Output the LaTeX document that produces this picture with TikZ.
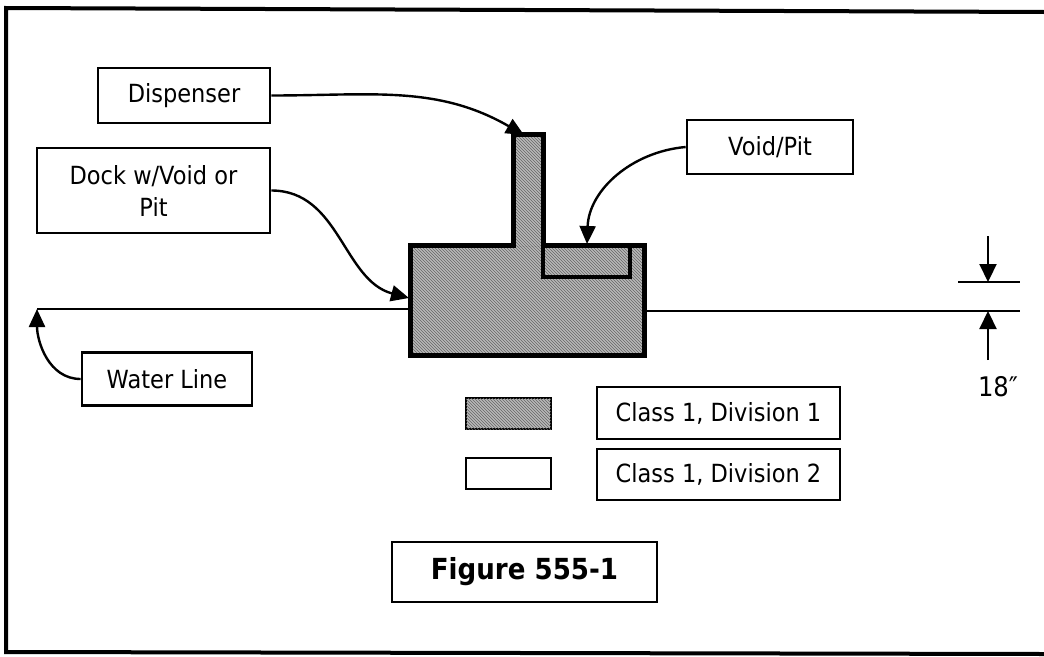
\documentclass[tikz,border=0pt]{standalone}
\usepackage{fontspec}
\setmainfont{DejaVu Sans}[FakeStretch=0.9]
\usetikzlibrary{arrows.meta,patterns}
\tikzset{
  lbl/.style={draw, line width=2.7pt, inner sep=0pt, font=\fontsize{25}{32}\selectfont, align=center},
  conn/.style={draw, line width=2.4pt, -{Triangle[length=18pt,width=16pt]}},
  dimarrow/.style={draw, line width=2.2pt, -{Triangle[length=18pt,width=17pt]}},
  hatchfill/.style={fill=black!28, postaction={pattern=north west lines, pattern color=black!60}},
}
\begin{document}
\begin{tikzpicture}[x=1pt,y=-1pt]
\useasboundingbox (0,0) rectangle (1044,656);
% frame
\draw[line width=4pt] (1044,12) -- (6,8) -- (6,652) -- (1044,654);

% label boxes
\node[lbl, minimum width=172, minimum height=55] (disp) at (184,95.5) {Dispenser};
\node[lbl, minimum width=233, minimum height=85] (dock) at (153.5,190.5) {Dock w/Void or\\Pit};
\node[lbl, minimum width=166, minimum height=54] (void) at (770,147) {Void/Pit};
\node[lbl, minimum width=170, minimum height=53] (water) at (167,379) {Water Line};

% tank
\fill[hatchfill] (410,245) rectangle (644,355);
\fill[hatchfill] (513,134) rectangle (543,246);
\draw[line width=5pt, line join=miter] (410,245) -- (513,245) -- (513,134) -- (543,134) -- (543,245) -- (644,245) -- (644,355) -- (410,355) -- cycle;
\draw[line width=3.4pt] (543,245) -- (543,277) -- (630,277) -- (630,245);
\coordinate (stemtop) at (524,135);
\coordinate (tankW) at (409,298);
\coordinate (voidtop) at (587,244);
\coordinate (tankE) at (644,311);

% water line
\coordinate (wlL) at (37,309);
\coordinate (wlR) at (1020,311);
\draw[line width=2.2pt] (wlL) -- (tankW |- wlL);
\draw[line width=2.2pt] (tankE) -- (wlR);

% dimension
\coordinate (dimtop) at (958,282);
\coordinate (dimtopR) at (1020,282);
\draw[line width=2.2pt] (dimtop) -- (dimtopR);
\coordinate (a1s) at (988,236);
\coordinate (a1e) at (988,282);
\coordinate (a2s) at (988,360);
\coordinate (a2e) at (988,311);
\draw[dimarrow] (a1s) -- (a1e);
\draw[dimarrow] (a2s) -- (a2e);
\node[font=\fontsize{27}{30}\selectfont] (dimtxt) at (998,387) {18″};

% connectors
\draw[conn] (disp.east) to[out=0, in=150] (stemtop);
\draw[conn] (dock.east) to[out=0, in=165] (tankW);
\draw[conn] (void.west) to[out=185, in=88] (voidtop);
\draw[conn] (water.west) to[out=180, in=-90] (wlL);

% legend
\filldraw[hatchfill, draw=black, line width=2pt] (466,398) rectangle (551,429);
\draw[line width=2pt] (466,458) rectangle (551,489);
\node[lbl, minimum width=243, minimum height=52] (c1) at (718.5,413) {Class 1, Division 1};
\node[lbl, minimum width=243, minimum height=51] (c2) at (718.5,474.5) {Class 1, Division 2};

% figure label
\node[lbl, minimum width=265, minimum height=60, font=\fontsize{29}{32}\selectfont\bfseries] (fig) at (524.5,572) {Figure 555-1};
\end{tikzpicture}
\end{document}
